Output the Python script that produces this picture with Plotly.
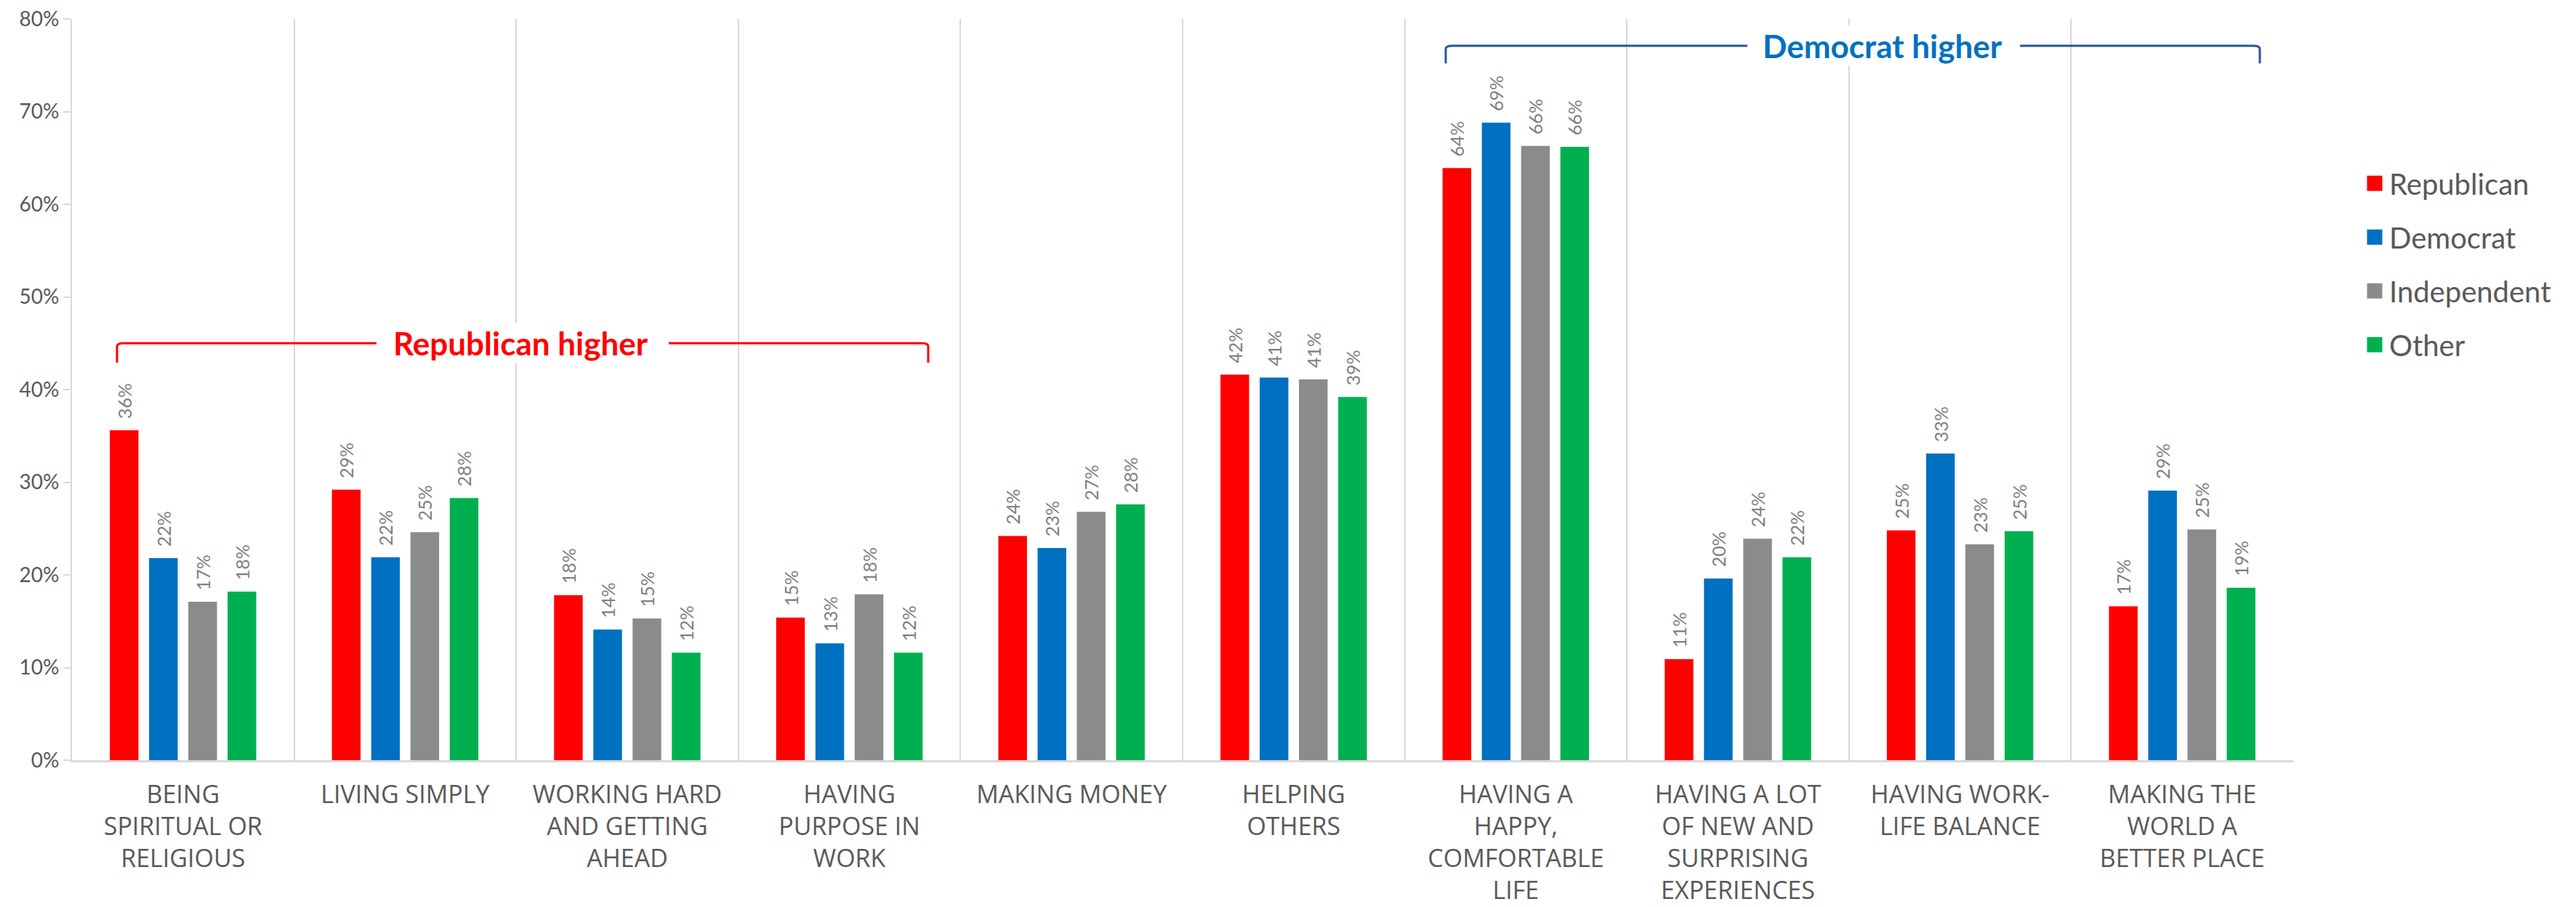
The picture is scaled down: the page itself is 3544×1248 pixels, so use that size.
import plotly.graph_objects as go

categories = [
    "Being spiritual or religious", "Living simply", "Working hard and getting ahead",
    "Having purpose in work", "Making money", "Helping others",
    "Having a happy, comfortable life", "Having a lot of new and surprising experiences",
    "Having work-life balance", "Making the world a better place",
]
tick_labels = [
    "BEING<br>SPIRITUAL OR<br>RELIGIOUS", "LIVING SIMPLY", "WORKING HARD<br>AND GETTING<br>AHEAD",
    "HAVING<br>PURPOSE IN<br>WORK", "MAKING MONEY", "HELPING<br>OTHERS",
    "HAVING A<br>HAPPY,<br>COMFORTABLE<br>LIFE", "HAVING A LOT<br>OF NEW AND<br>SURPRISING<br>EXPERIENCES",
    "HAVING WORK-<br>LIFE BALANCE", "MAKING THE<br>WORLD A<br>BETTER PLACE",
]
series_names = ["Republican", "Democrat", "Independent", "Other"]
republican = [35.6, 29.2, 17.8, 15.4, 24.2, 41.6, 63.9, 10.9, 24.8, 16.6]
democrat = [21.8, 21.9, 14.1, 12.6, 22.9, 41.3, 68.8, 19.6, 33.1, 29.1]
independent = [17.1, 24.6, 15.3, 17.9, 26.8, 41.1, 66.3, 23.9, 23.3, 24.9]
other = [18.2, 28.3, 11.6, 11.6, 27.6, 39.2, 66.2, 21.9, 24.7, 18.6]
colors = ["#FF0000", "#0070C0", "#8A8C8C", "#00B050"]
y_ticks = [0, 10, 20, 30, 40, 50, 60, 70, 80]
y_tick_text = ["0%", "10%", "20%", "30%", "40%", "50%", "60%", "70%", "80%"]

FONT = "Lato"
fig = go.Figure()
for name, vals, col in zip(series_names, [republican, democrat, independent, other], colors):
    fig.add_trace(go.Bar(
        x=categories, y=vals, name=name, marker=dict(color=col, line=dict(width=0)),
        texttemplate="\u00a0\u00a0%{y:.0f}%", textposition="outside", textangle=-90,
        constraintext="none", cliponaxis=False,
        textfont=dict(family=FONT, size=25, color="#808080"),
        showlegend=False,
    ))
for name, col in zip(series_names, colors):
    fig.add_trace(go.Scatter(
        x=[None], y=[None], mode="markers", name=name, legendgroup=name,
        marker=dict(symbol="square", size=16, color=col, line=dict(color=col, width=5)),
    ))

# page body has an 8px margin, so the figure is drawn 8px right/down
OFF = 8
PX_L, PX_R = 99, 3155
PX_T, PX_B = 26, 1046
W, H = 3544 - OFF, 1248 - OFF

def px(x):
    return (x - PX_L) / (PX_R - PX_L)

def bracket(x0, x1, gap0, gap1, y_line, y_end, color):
    dx = 0.003
    dy = 0.35
    fig.add_shape(type="path", xref="paper", yref="y",
                  path=f"M {px(x0)},{y_end} L {px(x0)},{y_line-dy} Q {px(x0)},{y_line} {px(x0)+dx},{y_line} L {px(gap0)},{y_line}",
                  line=dict(color=color, width=3))
    fig.add_shape(type="path", xref="paper", yref="y",
                  path=f"M {px(gap1)},{y_line} L {px(x1)-dx},{y_line} Q {px(x1)},{y_line} {px(x1)},{y_line-dy} L {px(x1)},{y_end}",
                  line=dict(color=color, width=3))

bracket(161, 1277, 518, 920, 45.0, 42.9, "#FF0000")
fig.add_annotation(x=px(716), y=45.0, xref="paper", yref="y", text="<b>Republican higher</b>",
                   showarrow=False, font=dict(family=FONT, size=44, color="#FF0000"),
                   bgcolor="white", xanchor="center", yanchor="middle")
bracket(1989, 3109, 2404, 2779, 77.1, 75.2, "#2A5690")
fig.add_annotation(x=px(2590), y=77.1, xref="paper", yref="y", text="<b>Democrat higher</b>",
                   showarrow=False, font=dict(family=FONT, size=44, color="#0070C0"),
                   bgcolor="white", xanchor="center", yanchor="middle")

fig.update_layout(
    width=W, height=H,
    margin=dict(l=PX_L - OFF, r=W - (PX_R - OFF), t=PX_T - OFF, b=H - (PX_B - OFF)),
    paper_bgcolor="white", plot_bgcolor="white",
    barmode="group", bargap=0.293, bargroupgap=0.27,
    font=dict(family=FONT, color="#595959"),
    legend=dict(x=px(3247), xanchor="left", y=0.810, yanchor="top",
                font=dict(family=FONT, size=40, color="#595959"),
                tracegroupgap=19, itemwidth=30, bgcolor="rgba(0,0,0,0)"),
    xaxis=dict(
        type="category", tickvals=categories, ticktext=tick_labels, tickson="boundaries",
        showgrid=True, gridcolor="#D9D9D9", gridwidth=2,
        showline=True, linecolor="#D9D9D9", linewidth=3,
        ticks="", ticklabelstandoff=15, automargin=False,
        tickfont=dict(family="Open Sans", size=34, color="#595959"),
    ),
    yaxis=dict(
        range=[0, 80], tickmode="array", tickvals=y_ticks, ticktext=y_tick_text,
        showgrid=False, zeroline=False, automargin=False, ticklabeloverflow="allow",
        showline=True, linecolor="#D9D9D9", linewidth=2,
        ticks="outside", ticklen=10, tickcolor="#D9D9D9", tickwidth=2,
        tickfont=dict(family=FONT, size=28, color="#595959"),
    ),
)
fig.write_html("out.html")
